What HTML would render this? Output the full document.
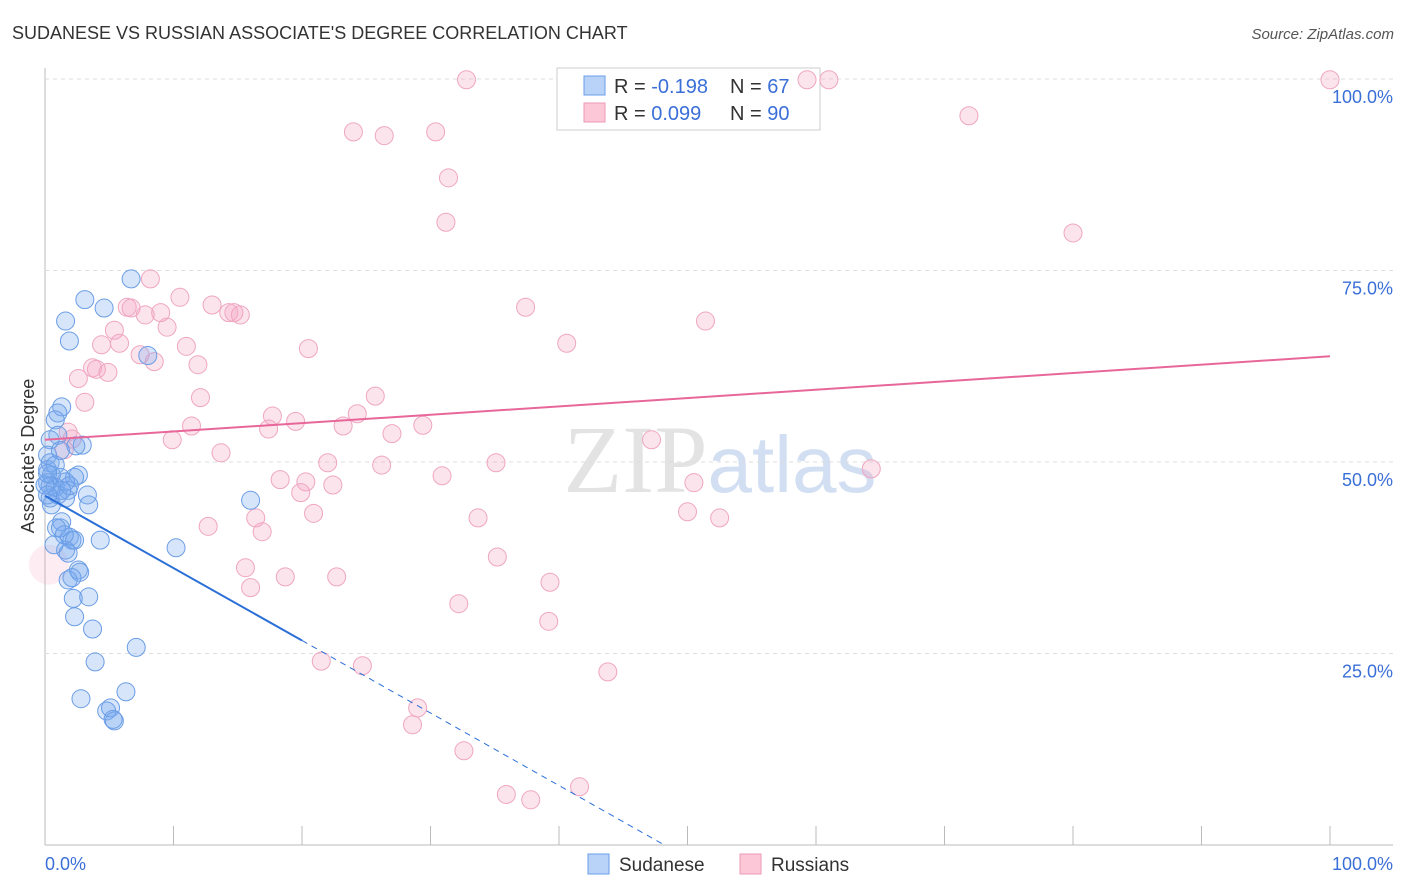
<!DOCTYPE html>
<html><head><meta charset="utf-8"><style>
body{margin:0;background:#fff;font-family:"Liberation Sans",sans-serif}
svg{display:block}
</style></head><body>
<svg id="chart" width="1406" height="892" xmlns="http://www.w3.org/2000/svg">
<text x="12" y="39" font-size="18" fill="#333">SUDANESE VS RUSSIAN ASSOCIATE'S DEGREE CORRELATION CHART</text>
<text x="1394" y="39" font-size="15" fill="#555" font-style="italic" text-anchor="end">Source: ZipAtlas.com</text>
<text x="720" y="492" font-size="96" fill="#ddd" text-anchor="middle" font-family="Liberation Serif" opacity="0.8">ZIP<tspan fill="#c8d8f0" font-family="Liberation Sans" font-size="80">atlas</tspan></text>
<g id="grid"></g>
<g>
<rect x="557" y="68" width="263" height="62" fill="#fff" stroke="#ccc"/>
<rect x="584" y="76" width="21" height="19" fill="#b8d3f7" stroke="#6a9de8"/>
<text x="614" y="93" font-size="20" fill="#333">R = <tspan fill="#3a6fd8">-0.198</tspan><tspan x="730">N = </tspan><tspan fill="#3a6fd8">67</tspan></text>
<rect x="584" y="103" width="21" height="19" fill="#fcc8d8" stroke="#ec99b5"/>
<text x="614" y="120" font-size="20" fill="#333">R = <tspan fill="#3a6fd8"> 0.099</tspan><tspan x="730">N = </tspan><tspan fill="#3a6fd8">90</tspan></text>
</g>
<g id="pts"></g>
<g id="lines"></g>
<text transform="translate(34,456) rotate(-90)" font-size="18" fill="#333" text-anchor="middle">Associate's Degree</text>
<text x="45" y="870" font-size="18" fill="#3a6fd8">0.0%</text>
<text x="1393" y="870" font-size="18" fill="#3a6fd8" text-anchor="end">100.0%</text>
<g>
<rect x="588" y="854" width="21" height="20" fill="#b8d3f7" stroke="#6a9de8"/>
<text x="619" y="871" font-size="19" fill="#333">Sudanese</text>
<rect x="740" y="854" width="21" height="20" fill="#fcc8d8" stroke="#ec99b5"/>
<text x="771" y="871" font-size="19" fill="#333">Russians</text>
</g>
</svg>
<script>
const NS="http://www.w3.org/2000/svg";
const yTicks=[25,50,75,100];
const yTickLabels=["25.0%","50.0%","75.0%","100.0%"];
const xTicks=[0,10,20,30,40,50,60,70,80,90,100];
const sudaneseX=[6.7,3.1,4.6,1.6,1.9,8.0,1.3,1.0,0.8,1.0,0.4,2.9,2.4,0.2,0.4,0.2,0.5,1.2,2.6,2.3,1.6,0.2,0.8,1.8,1.0,3.3,0.4,1.6,3.4,16.0,1.3,1.2,1.9,2.1,1.6,1.8,10.2,2.6,2.7,1.8,2.1,2.2,3.4,2.3,3.7,7.1,3.9,6.3,2.8,4.8,5.1,5.4,5.3,0.7,0.4,0.8,1.2,0.0,0.5,1.9,1.3,0.2,2.3,0.9,1.5,0.2,4.3];
const sudaneseY=[73.9,71.2,70.1,68.4,65.8,63.9,57.2,56.4,55.5,53.5,52.9,52.2,52.1,50.9,49.9,49.0,48.3,48.0,48.3,48.0,47.4,47.3,46.7,46.3,45.7,45.7,45.3,45.3,44.4,45.0,42.2,41.4,40.2,39.8,38.5,38.1,38.8,35.9,35.6,34.6,34.9,32.2,32.4,29.8,28.2,25.8,23.9,20.0,19.1,17.5,17.9,16.2,16.4,39.2,46.9,49.6,51.5,47.0,44.4,46.9,46.3,45.7,39.8,41.4,40.5,48.5,39.8];
const russiansX=[32.8,59.3,61.0,100,24.0,26.4,30.4,71.9,31.4,31.2,80.0,8.2,10.5,6.4,13.0,6.7,9.0,7.8,14.3,15.2,14.7,37.4,51.4,9.5,5.4,5.8,11.0,4.4,40.6,20.5,7.4,8.5,11.9,3.7,4.0,4.9,2.6,12.1,25.7,3.1,17.7,24.3,11.4,19.5,23.2,29.4,1.8,2.1,27.0,1.5,17.4,9.9,47.2,13.7,22.0,26.2,35.1,64.3,30.9,18.3,20.3,50.5,22.4,19.9,20.9,33.7,50.0,52.5,16.4,12.7,16.9,35.2,15.6,18.7,22.7,16.0,39.3,32.2,39.2,21.5,24.7,43.8,29.0,28.6,32.6,35.9,37.8,41.6,0.3];
const russiansY=[99.9,99.9,99.9,99.9,93.1,92.6,93.1,95.2,87.1,81.3,79.9,73.9,71.5,70.2,70.5,70.1,69.5,69.2,69.5,69.2,69.5,70.2,68.4,67.6,67.2,65.5,65.1,65.3,65.5,64.8,64.0,63.1,62.7,62.3,62.1,61.7,60.9,58.4,58.6,57.8,56.0,56.3,54.7,55.3,54.7,54.8,53.9,53.0,53.7,51.6,54.3,52.9,52.9,51.2,49.9,49.6,49.9,49.1,48.2,47.7,47.4,47.3,47.0,46.0,43.3,42.7,43.5,42.7,42.7,41.6,40.9,37.6,36.2,35.0,35.0,33.6,34.3,31.5,29.2,24.0,23.4,22.6,17.9,15.7,12.3,6.6,5.9,7.6,36.6];
const sudTrend=[0,45.6,20,26.7,48.2,0];
const rusTrend=[0,52.9,100,63.8];
const X=v=>45+v/100*1285, Y=v=>845-v/100*766;
function el(tag,at,p){const e=document.createElementNS(NS,tag);for(const k in at)e.setAttribute(k,at[k]);p.appendChild(e);return e;}
const grid=document.getElementById('grid');
const ax=el('line',{x1:45,y1:68,x2:45,y2:845,stroke:'#bbb'},grid);


const bx=el('line',{x1:45,y1:845,x2:1393,y2:845,stroke:'#bbb'},grid);


yTicks.forEach((t,i)=>{
 const g=el('line',{x1:45,y1:Y(t),x2:1393,y2:Y(t),stroke:'#ddd','stroke-dasharray':'4,4'},grid);
 
 
 const tx=el('text',{x:1393,y:Y(t)+24,'font-size':18,fill:'#3a6fd8','text-anchor':'end'},grid);
 tx.textContent=yTickLabels[i];
 
 
});
xTicks.forEach(t=>{
 const l=el('line',{x1:X(t),y1:826,x2:X(t),y2:845,stroke:'#bbb'},grid);
 
 
});
const pts=document.getElementById('pts');
russiansX.forEach((x,i)=>{
 const big=i==russiansX.length-1;
 const c=el('circle',{cx:X(x),cy:Y(russiansY[i]),r:big?20:9,fill:big?'rgba(246,165,195,0.2)':'rgba(246,165,195,0.3)',stroke:big?'none':'#efa6c0','stroke-width':1},pts);
 
 
});
sudaneseX.forEach((x,i)=>{
 const c=el('circle',{cx:X(x),cy:Y(sudaneseY[i]),r:9,fill:'rgba(120,170,240,0.3)',stroke:'#6b9de6','stroke-width':1},pts);
 
 
});
const lines=document.getElementById('lines');
const b1=el('line',{x1:X(sudTrend[0]),y1:Y(sudTrend[1]),x2:X(sudTrend[2]),y2:Y(sudTrend[3]),stroke:'#2a6fd8','stroke-width':2},lines);


const b2=el('line',{x1:X(sudTrend[2]),y1:Y(sudTrend[3]),x2:X(sudTrend[4]),y2:Y(sudTrend[5]),stroke:'#2a6fd8','stroke-width':1,'stroke-dasharray':'6,5'},lines);


const r1=el('line',{x1:X(rusTrend[0]),y1:Y(rusTrend[1]),x2:X(rusTrend[2]),y2:Y(rusTrend[3]),stroke:'#e8679a','stroke-width':2},lines);


</script>
</body></html>
